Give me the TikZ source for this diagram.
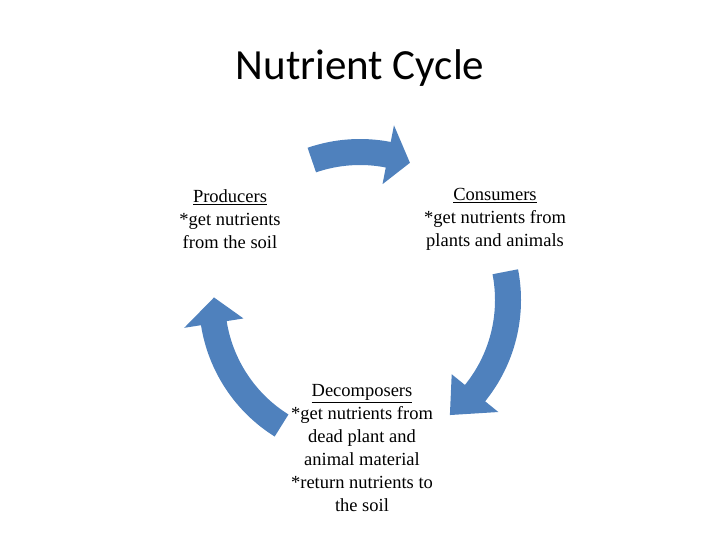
\documentclass[tikz,border=0pt]{standalone}
\usepackage{fontspec}
\setmainfont{Liberation Serif}
\newfontfamily\titlefont{Carlito}
\begin{document}
\begin{tikzpicture}[x=1pt,y=1pt,
  lbl/.style={align=center,font=\fontsize{18.5}{23}\selectfont,inner sep=0pt},
  blk/.style={fill={rgb,255:red,79;green,129;blue,189},draw=none}]
\useasboundingbox (0,0) rectangle (720,-540);
\node[font=\titlefont\fontsize{43}{46}\selectfont] (title) at (360,-68) {Nutrient Cycle};
\node[lbl] (prod) at (230,-219) {\underline{Producers}\\*get nutrients\\from the soil};
\node[lbl] (cons) at (495,-219) {\underline{Consumers}\\*get nutrients from\\plants and animals};
\node[lbl] (dec) at (362,-448) {\underline{Decomposers}\\*get nutrients from\\dead plant and\\animal material\\*return nutrients to\\the soil};
\begin{scope}[shift={(360,-300)}]
\def\arr#1#2#3{\fill[blk] (#1:161) arc[start angle=#1,end angle=#2,radius=161] -- (#2:178) -- (#3:146) -- (#2:118) -- (#2:135) arc[start angle=#2,end angle=#1,radius=135] -- cycle;}
\arr{109}{79}{70}
\arr{11}{-39}{-52}
\arr{-122}{-171}{-181}
\end{scope}
\end{tikzpicture}
\end{document}
